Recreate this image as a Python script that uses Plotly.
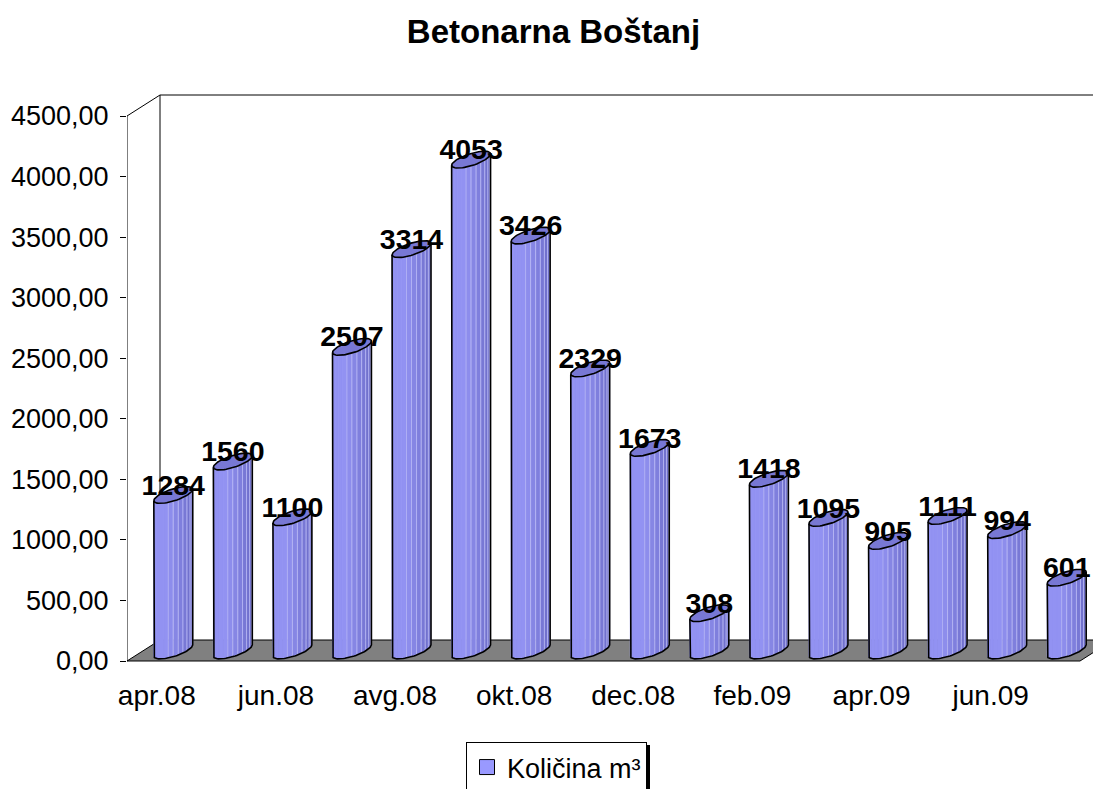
import numpy as np
import plotly.graph_objects as go

# ---------------- data ----------------
months = ["apr.08", "maj.08", "jun.08", "jul.08", "avg.08", "sep.08", "okt.08", "nov.08",
          "dec.08", "jan.09", "feb.09", "mar.09", "apr.09", "maj.09", "jun.09", "jul.09"]
values = [1284, 1560, 1100, 2507, 3314, 4053, 3426, 2329,
          1673, 308, 1418, 1095, 905, 1111, 994, 601]
y_tick_vals = [0, 500, 1000, 1500, 2000, 2500, 3000, 3500, 4000, 4500]
y_tick_text = [f"{v},00" for v in y_tick_vals]
x_tick_idx = list(range(0, len(months), 2))
x_tick_text = [months[i] for i in x_tick_idx]
series_name = "Količina m³"
chart_title = "Betonarna Boštanj"

# ---------------- geometry (pixels -> data units) ----------------
OFF = 8                      # page body margin
W, H = 1101 - OFF, 789 - OFF
L_M = 127 - OFF
T_M = 90 - OFF
PLOT_BOTTOM = 668 - OFF
B_M = H - PLOT_BOTTOM
R_M = 0
SX = 953 / 16.0            # px per category
SY = 545 / 4500.0          # px per value unit
DX = 33 / SX               # depth offset (x)
DY = 21 / SY               # depth offset (y)
A_PX, P_PX, Q_PX = 14.3, 13.2, 8.4   # cylinder ellipse params (px)

x_min = -0.5
x_max = -0.5 + (W - L_M - R_M) / SX
y_min = -(668 - 661) / SY
y_max = (661 - 90) / SY

t0 = np.arctan2(P_PX, A_PX)


def ell(cx, cy, t):
    t = np.asarray(t)
    return (cx + (A_PX * np.cos(t) + P_PX * np.sin(t)) / SX,
            cy + (Q_PX * np.sin(t)) / SY)


N_STRIP = 12
t_edges = np.linspace(t0 + np.pi, t0 + 2 * np.pi, N_STRIP + 1)


def strip_color(k):
    u = (k + 0.5) / N_STRIP
    bright = np.array([146, 146, 242])
    dark = np.array([96, 96, 186])
    if u < 0.4:
        c = bright
    else:
        f = (u - 0.4) / 0.6
        c = bright * (1 - f) + dark * f
    return "rgb(%d,%d,%d)" % tuple(c.astype(int))


fig = go.Figure()

# cylinder body strips (merged per strip index across bars)
for k in range(N_STRIP):
    xs, ys = [], []
    for i, v in enumerate(values):
        cx = i + DX / 2
        cyt = v + DY / 2
        cyb = 0 + DY / 2
        ts = np.linspace(t_edges[k], t_edges[k + 1], 8)
        xt, yt = ell(cx, cyt, ts)
        xb, yb = ell(cx, cyb, ts[::-1])
        xs += list(xt) + list(xb) + [xt[0], None]
        ys += list(yt) + list(yb) + [yt[0], None]
    col = strip_color(k)
    u = (k + 0.5) / N_STRIP
    lcol = "rgba(185,185,245,0.9)" if u > 0.4 else col
    fig.add_trace(go.Scatter(x=xs, y=ys, mode="lines", fill="toself", fillcolor=col,
                             line=dict(color=lcol, width=0.8), hoverinfo="skip",
                             showlegend=False))

# top ellipses
xs, ys = [], []
tt = np.linspace(0, 2 * np.pi, 60)
for i, v in enumerate(values):
    xe, ye = ell(i + DX / 2, v + DY / 2, tt)
    xs += list(xe) + [None]
    ys += list(ye) + [None]
fig.add_trace(go.Scatter(x=xs, y=ys, mode="lines", fill="toself",
                         fillcolor="rgb(120,120,212)",
                         line=dict(color="black", width=1.6), hoverinfo="skip",
                         showlegend=False))

# body outlines
xs, ys = [], []
tf = np.linspace(t0 + np.pi, t0 + 2 * np.pi, 40)
for i, v in enumerate(values):
    cx = i + DX / 2
    xl, yl = ell(cx, v + DY / 2, t0 + np.pi)
    xb, yb = ell(cx, DY / 2, tf)
    xr, yr = ell(cx, v + DY / 2, t0)
    xs += [float(xl)] + list(xb) + [float(xr), None]
    ys += [float(yl)] + list(yb) + [float(yr), None]
fig.add_trace(go.Scatter(x=xs, y=ys, mode="lines", line=dict(color="black", width=1.6),
                         hoverinfo="skip", showlegend=False))

# value labels
fig.add_trace(go.Scatter(
    x=[i + DX / 2 for i in range(len(values))],
    y=[v + 18 / SY for v in values],
    text=[str(v) for v in values], mode="text", textposition="middle center",
    textfont=dict(family="Liberation Sans, Arial", size=28.5, color="black", weight="bold"),
    hoverinfo="skip", showlegend=False))

# legend entry
fig.add_trace(go.Scatter(x=[None], y=[None], name=series_name, mode="markers",
                         marker=dict(symbol="square", size=15, color="#9999FF",
                                     line=dict(color="black", width=1)),
                         showlegend=True, hoverinfo="skip"))

# ---------------- walls / floor ----------------
shapes = []
n = len(values)
shapes.append(dict(type="path", xref="x", yref="y", layer="below",
                   path=f"M {-0.5},{0} L {n - 0.5},{0} L {n - 0.5 + DX},{DY} L {-0.5 + DX},{DY} Z",
                   fillcolor="#808080", line=dict(color="black", width=1)))
shapes.append(dict(type="line", xref="x", yref="y", layer="below",
                   x0=-0.5 + DX, y0=DY, x1=-0.5 + DX, y1=4500 + DY,
                   line=dict(color="black", width=1)))
shapes.append(dict(type="line", xref="x", yref="y", layer="below",
                   x0=-0.5 + DX, y0=4500 + DY, x1=n + 1, y1=4500 + DY,
                   line=dict(color="black", width=1)))
shapes.append(dict(type="line", xref="x", yref="y", layer="below",
                   x0=-0.5, y0=4500, x1=-0.5 + DX, y1=4500 + DY,
                   line=dict(color="black", width=1)))
shapes.append(dict(type="line", xref="x", yref="y",
                   x0=-0.5, y0=0, x1=-0.5, y1=4500,
                   line=dict(color="black", width=1)))

# legend shadow
PW = W - L_M - R_M
PH = H - T_M - B_M
sx = (648 - OFF - L_M) / PW
shapes.append(dict(type="line", xref="paper", yref="paper",
                   x0=sx, x1=sx,
                   y0=(PLOT_BOTTOM - (745 - OFF)) / PH, y1=(PLOT_BOTTOM - 800) / PH,
                   line=dict(color="black", width=4)))

fig.update_layout(
    width=W, height=H,
    margin=dict(l=L_M, r=R_M, t=T_M, b=B_M, autoexpand=False),
    paper_bgcolor="white", plot_bgcolor="white",
    font=dict(family="Liberation Sans, Arial", size=27, color="black"),
    title=dict(text=chart_title, xref="container", yref="container",
               x=(553.5 - OFF) / W, y=1 - (31 - OFF) / H, xanchor="center", yanchor="middle",
               font=dict(size=33, weight="bold", color="black")),
    xaxis=dict(range=[x_min, x_max], tickmode="array", tickvals=x_tick_idx,
               ticktext=x_tick_text, showgrid=False, zeroline=False, showline=False,
               ticks="", automargin=False, tickfont=dict(size=28),
               ticklabelstandoff=8),
    yaxis=dict(range=[y_min, y_max], tickmode="array", tickvals=y_tick_vals,
               ticktext=y_tick_text, showgrid=False, zeroline=False, showline=False,
               ticks="outside", ticklen=6, tickcolor="black", automargin=False,
               ticklabelstandoff=6, tickfont=dict(size=27)),
    legend=dict(xref="container", yref="container", x=(466 - OFF) / W, y=1 - (742 - OFF) / H,
                xanchor="left", yanchor="top", bgcolor="white", bordercolor="black",
                borderwidth=1, font=dict(size=27), itemclick=False),
    shapes=shapes,
    showlegend=True,
)

fig.write_html("out.html")
